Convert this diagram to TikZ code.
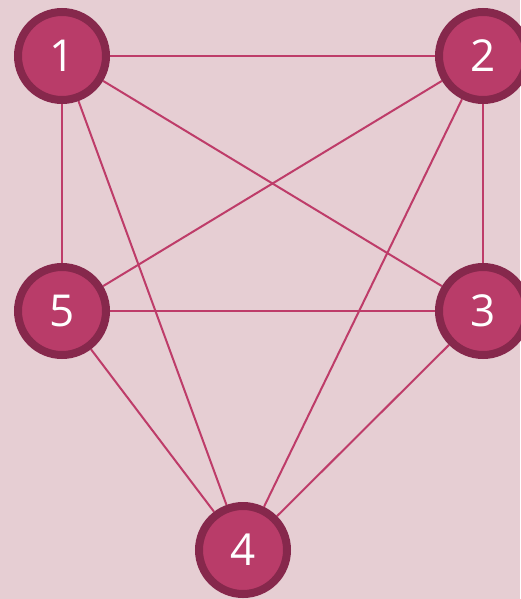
\documentclass[tikz,border=0pt]{standalone}
\usepackage{fontspec}
\setmainfont{Open Sans}
\usetikzlibrary{backgrounds}
\definecolor{bg}{RGB}{230,206,211}
\definecolor{nodefill}{RGB}{185,60,105}
\definecolor{ring}{RGB}{134,40,76}
\definecolor{edge}{RGB}{190,60,105}
\begin{document}
\begin{tikzpicture}[x=1pt,y=-1pt,
  vert/.style={circle,fill=nodefill,draw=ring,line width=8pt,minimum size=88pt,inner sep=0pt,
    text=white,font=\fontsize{44}{44}\selectfont},
  link/.style={draw=edge,line width=2pt}]
\useasboundingbox (0,0) rectangle (520,599);
\node[vert] (n1) at (62,56) {1};
\node[vert] (n2) at (483,56) {2};
\node[vert] (n3) at (483,311) {3};
\node[vert] (n5) at (62,311) {5};
\node[vert] (n4) at (243,550) {4};
\begin{scope}[on background layer]
\fill[bg] (0,0) rectangle (520,599);
\draw[link] (n1) -- (n2);
\draw[link] (n1) -- (n5);
\draw[link] (n1) -- (n3);
\draw[link] (n1) -- (n4);
\draw[link] (n2) -- (n5);
\draw[link] (n2) -- (n3);
\draw[link] (n2) -- (n4);
\draw[link] (n5) -- (n3);
\draw[link] (n5) -- (n4);
\draw[link] (n3) -- (n4);
\end{scope}
\end{tikzpicture}
\end{document}
